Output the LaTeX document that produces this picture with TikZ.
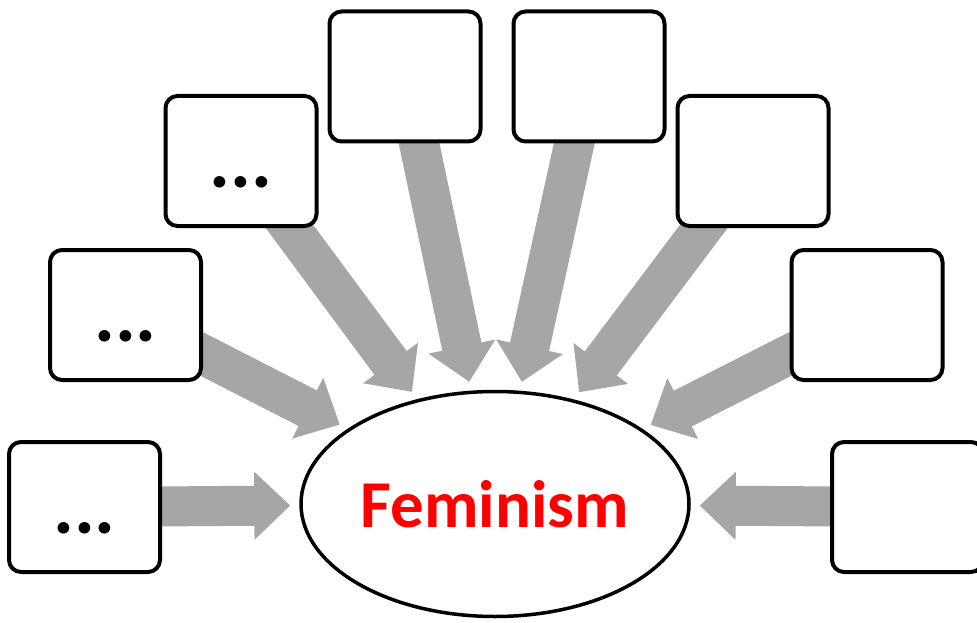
\documentclass[tikz,border=0pt]{standalone}
\usepackage{fontspec}
\setmainfont{Carlito}
\usetikzlibrary{arrows.meta,shapes.geometric,backgrounds}
\definecolor{arrowgray}{RGB}{166,166,166}
\definecolor{femred}{RGB}{255,0,0}
\tikzset{
  topicbox/.style={draw=black, line width=4pt, rounded corners=12pt, fill=white,
    minimum width=151pt, minimum height=130pt, inner sep=0pt},
  ellipsisbox/.style={font=\fontsize{78}{80}\selectfont\bfseries, text height=52pt, text depth=0pt},
  feed/.style={arrowgray, line width=40pt, -{Triangle[length=36pt,width=66pt]}, shorten >=9pt}
}

\begin{document}
\begin{tikzpicture}[x=1pt,y=-1pt]
\useasboundingbox (0,0) rectangle (977,623);
\clip (0,0) rectangle (977,623);
% centre
\node[ellipse, draw, line width=3.5pt, fill=white, minimum width=388pt, minimum height=225pt,
  inner sep=0pt, text=femred, font=\fontsize{67}{80}\selectfont\bfseries] (fem) at (495,504) {Feminism};
% left boxes
\node[topicbox, ellipsisbox] (l1) at (84.5,507) {...};
\node[topicbox, ellipsisbox] (l2) at (125.5,315) {...};
\node[topicbox, ellipsisbox] (l3) at (241,161) {...};
\node[topicbox] (l4) at (405,76.5) {};
% right boxes
\node[topicbox] (r4) at (589,76.5) {};
\node[topicbox] (r3) at (753,161) {};
\node[topicbox] (r2) at (867,315) {};
\node[topicbox] (r1) at (907.5,507) {};
% arrows
\begin{pgfonlayer}{background}
\foreach \b in {l1,l2,l3,l4,r4,r3,r2,r1}
  \draw[feed] (\b.center) -- (fem);
\end{pgfonlayer}
\end{tikzpicture}
\end{document}
